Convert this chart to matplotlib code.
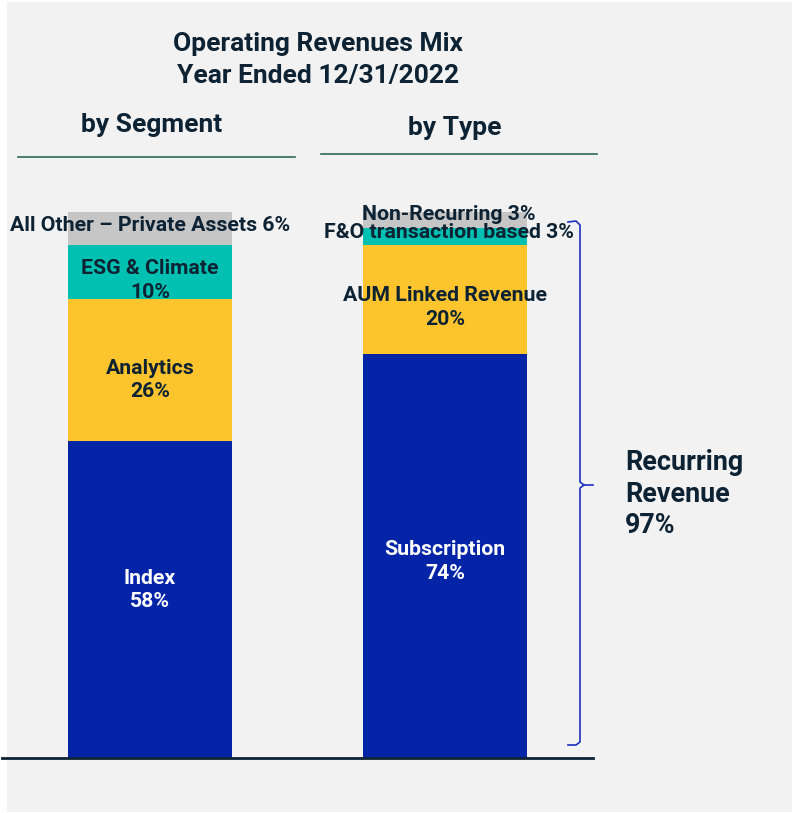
import matplotlib.pyplot as plt
from matplotlib.patches import Rectangle
from matplotlib.lines import Line2D

plt.rcParams['font.family'] = ['Roboto', 'DejaVu Sans']

# data
segment_names = ['Index', 'Analytics', 'ESG & Climate', 'All Other \u2013 Private Assets']
segment_values = [58, 26, 10, 6]
type_names = ['Subscription', 'AUM Linked Revenue', 'F&O transaction based', 'Non-Recurring']
type_values = [74, 20, 3, 3]
recurring_pct = 97

colors = ['#0424a8', '#fec42e', '#00c1b1', '#c6c6c6']
text_dark = '#0d2233'

W, H = 792, 813
fig = plt.figure(figsize=(W / 100, H / 100), dpi=100, facecolor='white')


def px(x, y):
    # pixel (from top-left) -> figure fraction
    return x / W, 1 - y / H


# grey panel
fig.add_artist(Rectangle(px(7, 812), (792 - 7) / W, (812 - 2) / H,
                         transform=fig.transFigure, facecolor='#f2f2f2',
                         edgecolor='none', zorder=0))

# axes: x pixel 2..593, y pixel 758 (0%) .. 212 (100%)
ax = fig.add_axes([2 / W, (H - 758) / H, (593 - 2) / W, (758 - 212) / H])
ax.set_facecolor('none')
ax.set_xlim(-0.5017, 1.5017)
ax.set_ylim(0, 100)
for s in ['top', 'right', 'left']:
    ax.spines[s].set_visible(False)
ax.spines['bottom'].set_color(text_dark)
ax.spines['bottom'].set_linewidth(2)
ax.set_xticks([])
ax.set_yticks([])

bw = 0.556
for xpos, vals in [(0, segment_values), (1, type_values)]:
    bottom = 0
    for v, c in zip(vals, colors):
        ax.bar(xpos, v, bw, bottom=bottom, color=c, edgecolor='none', zorder=2)
        bottom += v

# labels in bars
fs = 15.3


def seg_label(x, bottom, v, text, color, dx=0, dy=0):
    ax.annotate(text, (x, bottom + v / 2), xytext=(dx, dy), textcoords='offset points',
                ha='center', va='center', fontsize=fs, fontweight='bold',
                color=color, linespacing=1.32, zorder=5)


b = 0
seg_dy = [7, -7, -6, 2]
for name, v, dy, i in zip(segment_names, segment_values, seg_dy, range(4)):
    if i == 3:
        txt = f'{name} {v}%'
    else:
        txt = f'{name}\n{v}%'
    seg_label(0, b, v, txt, 'white' if i == 0 else text_dark, 0, dy)
    b += v

b = 0
type_dy = [-4, -6, 3, 4]
type_dx = [0, 0, 3, 3]
for name, v, dx, dy, i in zip(type_names, type_values, type_dx, type_dy, range(4)):
    if i >= 2:
        txt = f'{name} {v}%'
    else:
        txt = f'{name}\n{v}%'
    seg_label(1, b, v, txt, 'white' if i == 0 else text_dark, dx, dy)
    b += v

# brace for recurring revenue
bc = '#1a2fc0'
xb = 580
brace_top, brace_mid, brace_bot = 222, 485, 745
for seg in [[(568, brace_top), (576, brace_top - 1), (xb, brace_top + 3), (xb, brace_mid - 3), (584, brace_mid), (593, brace_mid)],
            [(584, brace_mid), (xb, brace_mid + 3), (xb, brace_bot - 3), (576, brace_bot), (568, brace_bot)]]:
    xs = [px(p[0], p[1])[0] for p in seg]
    ys = [px(p[0], p[1])[1] for p in seg]
    fig.add_artist(Line2D(xs, ys, transform=fig.transFigure, color=bc, lw=1.2))

fig.text(*px(625, 494), f'Recurring\nRevenue\n{recurring_pct}%', ha='left', va='center',
         fontsize=19.4, fontweight='bold', color=text_dark, linespacing=1.2)

# titles
fig.text(*px(318, 60), 'Operating Revenues Mix\nYear Ended 12/31/2022', ha='center', va='center',
         fontsize=19, fontweight='bold', color=text_dark, linespacing=1.37)
fig.text(*px(152, 125), 'by Segment', ha='center', va='center',
         fontsize=19, fontweight='bold', color=text_dark)
fig.text(*px(455, 128), 'by Type', ha='center', va='center',
         fontsize=19, fontweight='bold', color=text_dark)

line_c = '#2f6b57'
for x0, x1, y in [(18, 295, 157), (321, 597, 154)]:
    fig.add_artist(Line2D([x0 / W, x1 / W], [1 - y / H, 1 - y / H],
                          transform=fig.transFigure, color=line_c, lw=1.2))

fig.savefig('out.png', dpi=100)
